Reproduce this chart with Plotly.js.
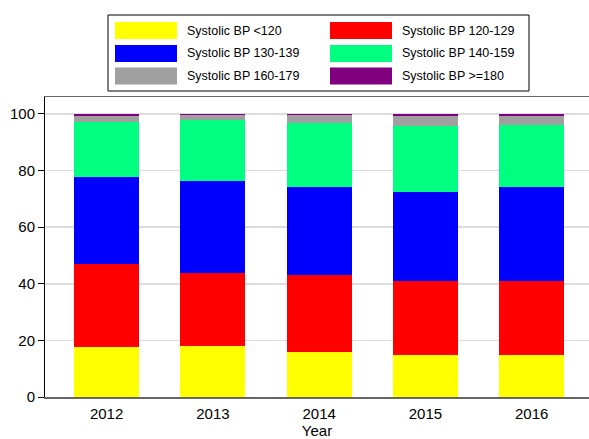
<!DOCTYPE html>
<html>
<head>
<meta charset="utf-8">
<script src="https://cdn.plot.ly/plotly-3.0.1.min.js"></script>
<style>html,body{margin:0;padding:0;background:#fff;}#chart{width:589px;height:439px;}</style>
</head>
<body>
<div id="chart"></div>
<script>
const years = ['2012', '2013', '2014', '2015', '2016'];
const seriesNames = ['Systolic BP <120', 'Systolic BP 120-129', 'Systolic BP 130-139', 'Systolic BP 140-159', 'Systolic BP 160-179', 'Systolic BP >=180'];
const seriesColors = ['#ffff00', '#ff0000', '#0000ff', '#00ff80', '#a0a0a0', '#800080'];
const bp_lt120 = [17.6, 18.0, 16.0, 15.0, 14.8];
const bp_120_129 = [29.4, 25.9, 27.2, 26.1, 26.3];
const bp_130_139 = [30.8, 32.4, 30.9, 31.4, 33.1];
const bp_140_159 = [19.3, 21.6, 22.6, 23.4, 21.9];
const bp_160_179 = [2.3, 1.6, 3.0, 3.5, 3.3];
const bp_ge180 = [0.6, 0.5, 0.3, 0.6, 0.6];
const yTicks = [0, 20, 40, 60, 80, 100];

const seriesValues = [bp_lt120, bp_120_129, bp_130_139, bp_140_159, bp_160_179, bp_ge180];

const traces = seriesValues.map((vals, i) => ({
  type: 'bar',
  x: years,
  y: vals,
  name: seriesNames[i],
  marker: {color: seriesColors[i], line: {width: 0}},
  showlegend: false
}));

// custom legend (wide swatches) in pixel-based paper coordinates
const W = 589, H = 439;
const mL = 45, mR = 0, mT = 97, mB = 42;
const pw = W - mL - mR, ph = H - mT - mB;
const px = x => (x - mL) / pw;
const py = y => (H - mB - y) / ph;

const shapes = [];
const annotations = [];
shapes.push({type: 'rect', xref: 'paper', yref: 'paper', x0: px(108), x1: px(529), y0: py(91), y1: py(15),
  line: {color: '#000', width: 1}, fillcolor: 'rgba(0,0,0,0)'});
const colX = [115, 330];
const rowY = [30.5, 53.5, 76];
seriesNames.forEach((nm, i) => {
  const c = i % 2, r = Math.floor(i / 2);
  const sx = colX[c], sy = rowY[r];
  shapes.push({type: 'rect', xref: 'paper', yref: 'paper', x0: px(sx), x1: px(sx + 62), y0: py(sy + 8.5), y1: py(sy - 8.5),
    line: {width: 0}, fillcolor: seriesColors[i]});
  annotations.push({xref: 'paper', yref: 'paper', x: px(sx + 70), y: py(sy), xanchor: 'left', yanchor: 'middle',
    text: nm, showarrow: false, font: {size: 12.5, color: '#000', family: 'Liberation Sans, Arial, sans-serif'}});
});

const layout = {
  width: W, height: H,
  margin: {l: mL, r: mR, t: mT, b: mB, pad: 0},
  paper_bgcolor: '#fff', plot_bgcolor: '#fff',
  barmode: 'stack',
  bargap: 0.39,
  font: {family: 'Liberation Sans, Arial, sans-serif', size: 15, color: '#000'},
  showlegend: false,
  xaxis: {
    type: 'category',
    range: [-0.58, 4.54],
    showline: true, linecolor: '#666', linewidth: 1.5, mirror: true,
    ticks: '', showgrid: false, zeroline: false,
    tickfont: {size: 15},
    ticklabelstandoff: 2,
    title: {text: 'Year', font: {size: 15}, standoff: 7},
    automargin: false
  },
  yaxis: {
    range: [0, 106],
    tickvals: yTicks,
    ticks: 'outside', ticklen: 6, tickcolor: '#000', tickwidth: 1,
    showline: true, linecolor: '#000', linewidth: 1,
    showgrid: true, gridcolor: '#dddddd', gridwidth: 1.5,
    zeroline: false,
    tickfont: {size: 15},
    automargin: false
  },
  shapes: shapes,
  annotations: annotations
};

Plotly.newPlot('chart', traces, layout, {displayModeBar: false, staticPlot: true});
</script>
</body>
</html>
